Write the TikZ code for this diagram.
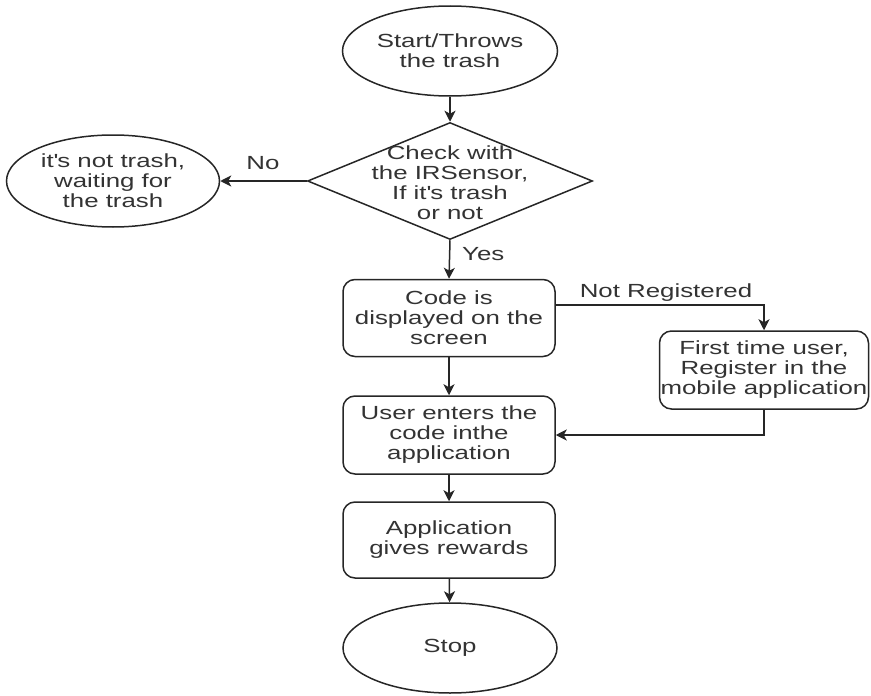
\documentclass[tikz,border=0pt]{standalone}
\usepackage{fontspec}
\setmainfont{Liberation Sans}[FakeStretch=1.36]
\usetikzlibrary{shapes.geometric,arrows.meta,calc}

\tikzset{
  base/.style={draw=black!85, line width=1.5pt, align=center, inner sep=0pt,
    text=black!80, font=\fontsize{19}{20}\selectfont},
  terminal/.style={base, ellipse},
  decision/.style={base, diamond},
  process/.style={base, rectangle, rounded corners=12pt,
    minimum width=212pt, minimum height=77pt},
  flow/.style={draw=black!85, line width=1.5pt,
    -{Stealth[length=11pt,width=11pt,inset=3pt]}},
  lbl/.style={text=black!80, font=\fontsize{19}{20}\selectfont, inner sep=0pt}
}

\begin{document}
\begin{tikzpicture}[x=1pt,y=-1pt]
  \useasboundingbox (0,0) rectangle (871,696);

  % terminals and decision
  \node[terminal, minimum width=215pt, minimum height=90pt] (start) at (450,51)
    {Start/Throws\\the trash};
  \node[decision, minimum width=285pt, minimum height=117pt] (check) at (450,181) {};
  \node[lbl, align=center] (checktxt) at (450,183)
    {Check with\\the IRSensor,\\If it\textquotesingle s trash\\or not};
  \node[terminal, minimum width=213pt, minimum height=92pt] (nottrash) at (113,181)
    {it\textquotesingle s not trash,\\waiting for\\the trash};

  % process boxes
  \node[process] (code) at (449,318) {Code is\\displayed on the\\screen};
  \node[process, minimum width=209pt, minimum height=78pt] (first) at (764,370)
    {First time user,\\Register in the\\mobile application};
  \node[process, minimum height=78pt] (user) at (449,435)
    {User enters the\\code inthe\\application};
  \node[process, minimum height=76pt] (app) at (449,540)
    {Application\\gives rewards};
  \node[terminal, minimum width=214pt, minimum height=90pt] (stop) at (450,648) {Stop};

  % connectors
  \draw[flow] (start) -- (check.north);
  \draw[flow] (check.west) -- (nottrash.east);
  \node[lbl] (nolbl) at (263,163) {No};
  \draw[flow] (check.south) -- (code.north);
  \node[lbl, anchor=west] (yeslbl) at (462,254) {Yes};
  \draw[flow] ([yshift=13pt]code.east) -| (first.north);
  \node[lbl] (nrlbl) at (666,293) {Not Registered};
  \draw[flow] (first.south) |- (user.east);
  \draw[flow] (code) -- (user);
  \draw[flow] (user) -- (app);
  \draw[flow] (app) -- (stop);
\end{tikzpicture}
\end{document}
